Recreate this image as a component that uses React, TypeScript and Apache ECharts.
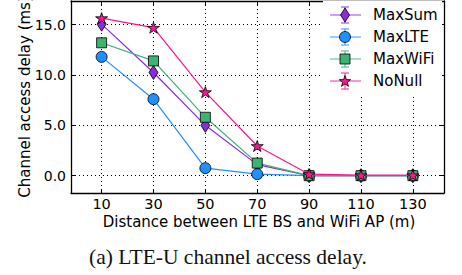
import React, { useEffect, useRef } from "react";
import * as echarts from "echarts";

const distances = [10, 30, 50, 70, 90, 110, 130];
const maxSum = [15.05, 10.25, 5.0, 1.1, 0.0, 0.0, 0.0];
const maxLTE = [11.8, 7.6, 0.75, 0.15, 0.0, 0.0, 0.0];
const maxWiFi = [13.2, 11.4, 5.8, 1.25, 0.0, 0.0, 0.0];
const noNull = [15.65, 14.7, 8.3, 2.95, 0.15, 0.05, 0.05];
const yTicks = [0, 5, 10, 15];
const seriesNames = ["MaxSum", "MaxLTE", "MaxWiFi", "NoNull"];
const colors = ["#8a2be2", "#1e90ff", "#3cb371", "#ff1493"];

const STAR =
  "path://M100,0 L122.45,69.1 L195.1,69.1 L136.3,111.8 L158.8,180.9 L100,138.2 L41.2,180.9 L63.7,111.8 L4.9,69.1 L77.55,69.1 Z";
const symbols: any[] = ["diamond", "circle", "rect", STAR];
const symbolSizes: any[] = [[9, 14], 11, 10, [12, 11]];

export default function App() {
  const ref = useRef<HTMLDivElement>(null);
  useEffect(() => {
    if (!ref.current) return;
    const chart = echarts.init(ref.current, undefined, { renderer: "svg" });
    const font = "DejaVu Sans";
    const dataSets = [maxSum, maxLTE, maxWiFi, noNull];
    const gridLeft = 71, gridTop = 1, gridRight = 18, gridBottom = 82;

    const rowsY = [15, 37, 59, 81];
    function starPts(cx: number, cy: number, r: number) {
      const pts: number[][] = [];
      for (let k = 0; k < 10; k++) {
        const rr = k % 2 === 0 ? r : r * 0.4;
        const a = -Math.PI / 2 + (k * Math.PI) / 5;
        pts.push([cx + rr * Math.cos(a), cy + rr * Math.sin(a)]);
      }
      return pts;
    }
    const legendGraphics: any[] = [
      { type: "rect", z: 100, shape: { x: 323, y: 1, width: 119, height: 95 }, style: { fill: "#fff" } },
    ];
    seriesNames.forEach((n, i) => {
      const y = rowsY[i];
      const c = colors[i];
      legendGraphics.push(
        { type: "line", z: 101, shape: { x1: 330, y1: y, x2: 361, y2: y }, style: { stroke: c, lineWidth: 1.5, opacity: 0.6 } },
        { type: "line", z: 101, shape: { x1: 345, y1: y - 8, x2: 345, y2: y + 8 }, style: { stroke: c, lineWidth: 1.2, opacity: 0.8 } },
        { type: "line", z: 101, shape: { x1: 341, y1: y - 8, x2: 349, y2: y - 8 }, style: { stroke: c, lineWidth: 1.2, opacity: 0.8 } },
        { type: "line", z: 101, shape: { x1: 341, y1: y + 8, x2: 349, y2: y + 8 }, style: { stroke: c, lineWidth: 1.2, opacity: 0.8 } },
        {
          type: "text", z: 102, x: 373, y: y,
          style: { text: n, font: `15px '${font}'`, fill: "#000", textVerticalAlign: "middle", textAlign: "left" },
        }
      );
    });
    legendGraphics.push(
      { type: "polygon", z: 103, shape: { points: [[345, rowsY[0] - 7], [349.5, rowsY[0]], [345, rowsY[0] + 7], [340.5, rowsY[0]]] }, style: { fill: colors[0], stroke: "#000", lineWidth: 0.8 } },
      { type: "circle", z: 103, shape: { cx: 345, cy: rowsY[1], r: 5.5 }, style: { fill: colors[1], stroke: "#000", lineWidth: 0.8 } },
      { type: "rect", z: 103, shape: { x: 340, y: rowsY[2] - 5, width: 10, height: 10 }, style: { fill: colors[2], stroke: "#000", lineWidth: 0.8 } },
      { type: "polygon", z: 103, shape: { points: starPts(345, rowsY[3] + 0.5, 6) }, style: { fill: colors[3], stroke: "#000", lineWidth: 0.8 } }
    );

    const axisCommon = {
      type: "value",
      axisLine: { show: true, onZero: false, lineStyle: { color: "#000", width: 1.3 } },
      axisTick: { show: true, inside: true, length: 4, lineStyle: { color: "#000" } },
    };

    chart.setOption({
      animation: false,
      grid: { left: gridLeft, top: gridTop, right: gridRight, bottom: gridBottom, containLabel: false },
      xAxis: [
        {
          ...axisCommon,
          min: -1.8,
          max: 142,
          axisTick: { ...axisCommon.axisTick, customValues: distances },
          axisLabel: { customValues: distances, color: "#000", fontFamily: font, fontSize: 14.5, margin: 3 },
          splitLine: { show: true, lineStyle: { color: "#000", type: [1, 3], width: 1 } },
        },
        {
          ...axisCommon,
          position: "top",
          min: -1.8,
          max: 142,
          axisTick: { ...axisCommon.axisTick, customValues: distances },
          axisLabel: { show: false, customValues: distances },
          splitLine: { show: false },
        },
      ],
      yAxis: [
        {
          ...axisCommon,
          min: -1.72,
          max: 17.35,
          axisTick: { ...axisCommon.axisTick, customValues: yTicks },
          axisLabel: {
            customValues: yTicks,
            color: "#000",
            fontFamily: font,
            fontSize: 14,
            margin: 5,
            formatter: (v: number) => v.toFixed(1),
          },
          splitLine: { show: true, lineStyle: { color: "#000", type: [1, 3], width: 1 } },
        },
        {
          ...axisCommon,
          position: "right",
          min: -1.72,
          max: 17.35,
          axisTick: { ...axisCommon.axisTick, customValues: yTicks },
          axisLabel: { show: false, customValues: yTicks },
          splitLine: { show: false },
        },
      ],
      series: dataSets.map((d, i) => ({
        name: seriesNames[i],
        type: "line",
        data: d.map((v, j) => [distances[j], v]),
        symbol: symbols[i],
        symbolSize: symbolSizes[i],
        showSymbol: true,
        lineStyle: { color: colors[i], width: 1.2 },
        itemStyle: { color: colors[i], borderColor: "#000", borderWidth: 0.8 },
        z: 10 + i,
      })),
      graphic: [
        {
          type: "text", x: 25, y: 97, rotation: Math.PI / 2,
          style: { text: "Channel access delay (ms)", font: `15px '${font}'`, fill: "#000", textAlign: "center", textVerticalAlign: "middle" },
        },
        {
          type: "text", x: 259, y: 222,
          style: { text: "Distance between LTE BS and WiFi AP (m)", font: `15px '${font}'`, fill: "#000", textAlign: "center", textVerticalAlign: "middle" },
        },
        {
          type: "text", x: 228, y: 257,
          style: { text: "(a) LTE-U channel access delay.", font: `21.5px 'Liberation Serif'`, fill: "#111", textAlign: "center", textVerticalAlign: "middle" },
        },
        ...legendGraphics,
      ],
    });
    return () => chart.dispose();
  }, []);
  return <div ref={ref} style={{ position: "fixed", left: 0, top: 0, width: 462, height: 275, background: "#fff" }} />;
}
